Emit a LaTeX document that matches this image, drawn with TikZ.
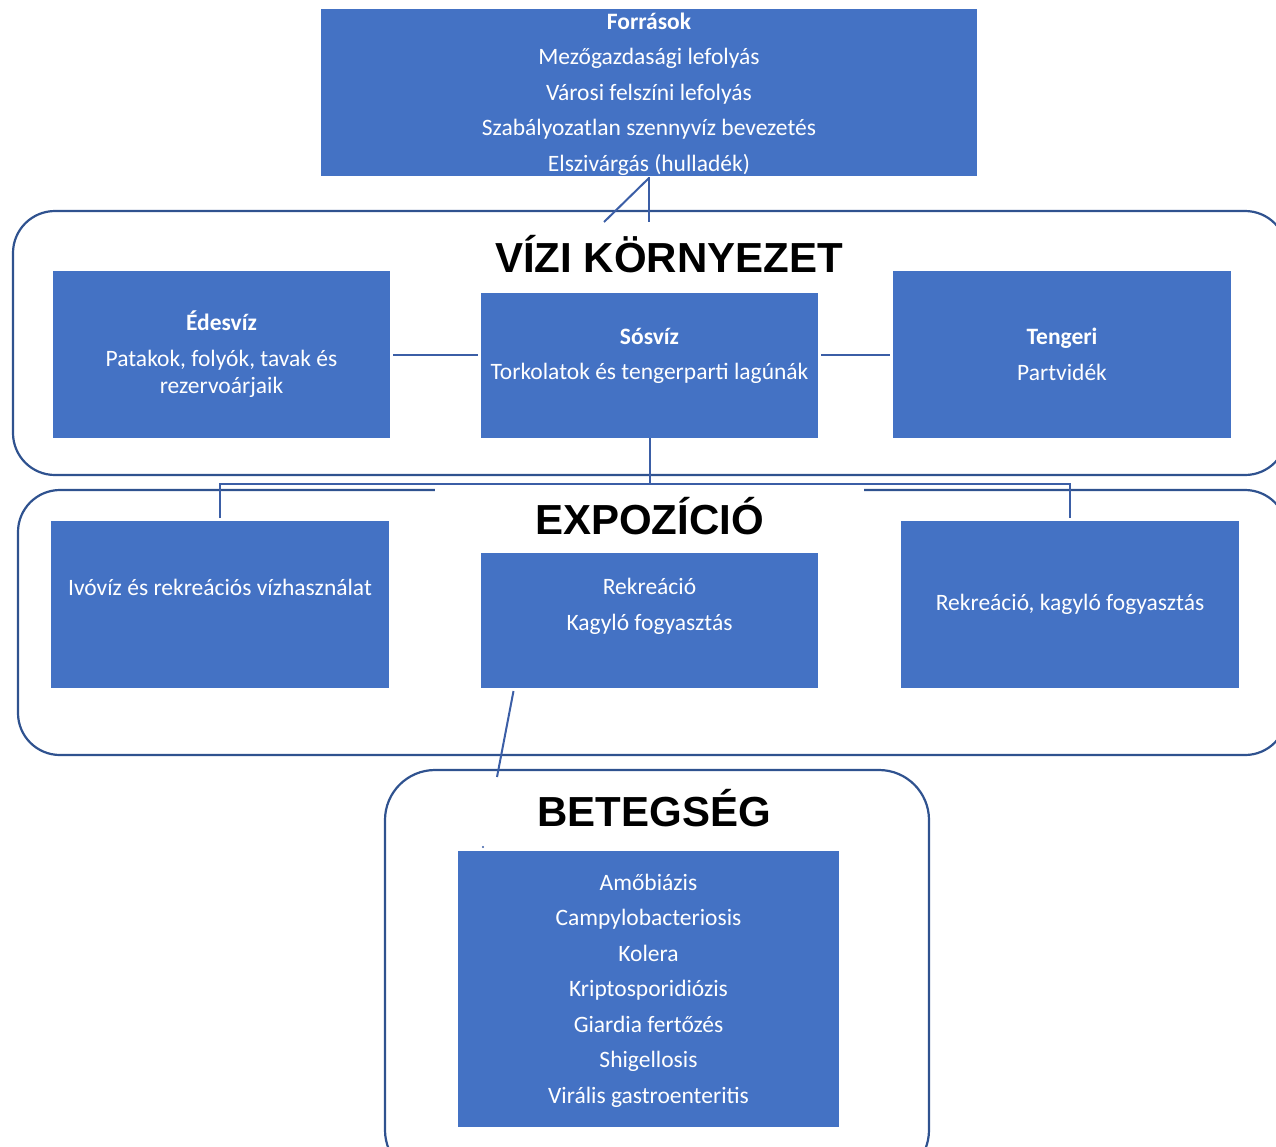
\documentclass[tikz,border=0pt]{standalone}
\usepackage{fontspec}
\setmainfont{Carlito}
\newfontfamily\headfont{Liberation Sans}
\usetikzlibrary{positioning}
\definecolor{boxblue}{HTML}{4472C4}
\definecolor{rimblue}{HTML}{2F528F}
\definecolor{lineblue}{HTML}{3B5EA6}

\begin{document}
\begin{tikzpicture}[x=1pt,y=-1pt,
    box/.style={fill=boxblue,inner sep=0pt,outer sep=0pt,text=white,align=center,font=\fontsize{23.5}{27}\selectfont},
    txt/.style={text=white,align=center,inner sep=0pt,font=\fontsize{23.5}{27}\selectfont},
    frame/.style={draw=rimblue,line width=2.2pt,inner sep=0pt,outer sep=0pt},
    heading/.style={font=\headfont\bfseries\fontsize{42}{48}\selectfont,inner sep=0pt},
    link/.style={draw=lineblue,line width=2pt}]
    \useasboundingbox (0,0) rectangle (1276,1146);
    % containers
    \node[frame,rounded corners=42pt,minimum width=1274,minimum height=264] (env) at (650,343) {};
    \node[frame,rounded corners=42pt,minimum width=1269,minimum height=265] (expo) at (652.5,622.5) {};
    \node[frame,rounded corners=50pt,minimum width=544,minimum height=410] (ill) at (657,975) {};
    % headings
    \node[heading] (envtitle) at (669,254.5) {VÍZI KÖRNYEZET};
    \node[heading,fill=white,minimum width=429,minimum height=64,text depth=4pt] (expotitle) at (649.5,518) {EXPOZÍCIÓ};
    \node[heading] (illtitle) at (654,808.5) {BETEGSÉG};
    % sources
    \node[box,minimum width=656,minimum height=167] (src) at (649,92.5) {};
    \node[txt] (srctext) at ([yshift=-1.5pt]src.center)
      {\textbf{Források}\\[8.5pt]Mezőgazdasági lefolyás\\[8.5pt]Városi felszíni lefolyás\\[8.5pt]Szabályozatlan szennyvíz bevezetés\\[8.5pt]Elszivárgás (hulladék)};
    \draw[link] ([yshift=-1pt]src.south) -- ++(0,45);
    \draw[link] ([yshift=-2pt]src.south) -- ++(-45,44);
    % environment
    \node[box,minimum width=337,minimum height=167] (fresh) at (221.5,354.5)
      {\textbf{Édesvíz}\\[9pt]Patakok, folyók, tavak és\\rezervoárjaik};
    \node[box,minimum width=337,minimum height=145] (salt) at (649.5,365.5) {};
    \node[txt] (salttext) at ([yshift=9.5pt]salt.center) {\textbf{Sósvíz}\\[8.5pt]Torkolatok és tengerparti lagúnák};
    \node[box,minimum width=338,minimum height=167] (sea) at (1062,354.5)
      {\textbf{Tengeri}\\[8.5pt]Partvidék};
    \draw[link] ([xshift=3pt]fresh.east) -- ([xshift=-3pt]fresh.east-|salt.west);
    \draw[link] ([xshift=3pt]sea.west-|salt.east) -- ([xshift=-3pt]sea.west);
    % exposure
    \node[box,minimum width=338,minimum height=167] (drink) at (220,604.5) {};
    \node[txt] (drinktext) at ([yshift=17.5pt]drink.center) {Ivóvíz és rekreációs vízhasználat};
    \node[box,minimum width=337,minimum height=135] (recr) at (649.5,620.5) {};
    \node[txt] (recrtext) at ([yshift=14pt]recr.center) {Rekreáció\\[8.5pt]Kagyló fogyasztás};
    \node[box,minimum width=338,minimum height=167] (shell) at (1070,604.5) {Rekreáció, kagyló fogyasztás};
    \draw[link] (salt.south) -- ++(0,46);
    \draw[link] ([yshift=3pt]drink.north) -- ++(0,-34) -| ([yshift=3pt]shell.north);
    \draw[link] ([xshift=-136pt,yshift=-3pt]recr.south) -- ([xshift=112pt,yshift=-7pt]ill.north west);
    % disease
    \fill[lineblue] (483,847) circle (1.2);
    \node[box,minimum width=381,minimum height=276] (dis) at (648.5,989) {};
    \node[txt] (distext) at ([yshift=-1.5pt]dis.center)
      {Amőbiázis\\[8.5pt]Campylobacteriosis\\[8.5pt]Kolera\\[8.5pt]Kriptosporidiózis\\[8.5pt]Giardia fertőzés\\[8.5pt]Shigellosis\\[8.5pt]Virális gastroenteritis};
\end{tikzpicture}
\end{document}
